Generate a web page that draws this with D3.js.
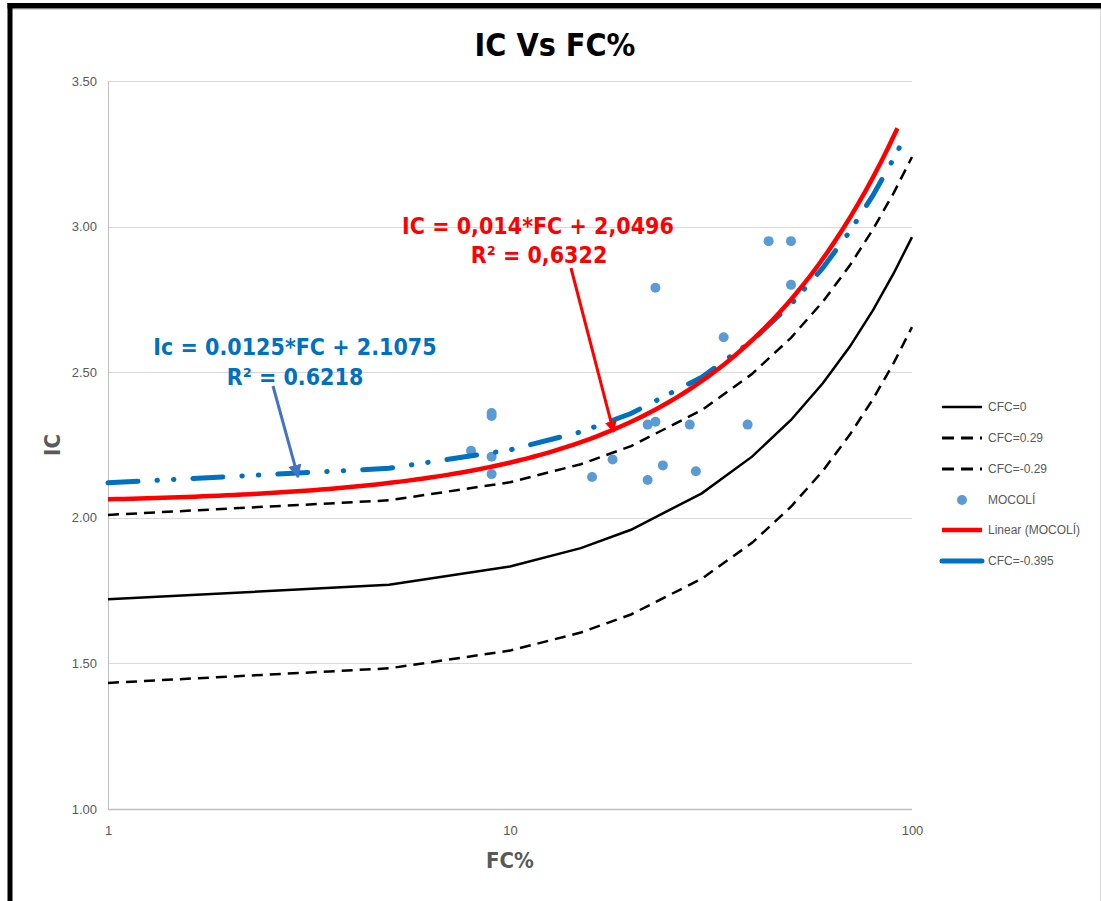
<!DOCTYPE html>
<html>
<head>
<meta charset="utf-8">
<script src="https://cdn.jsdelivr.net/npm/d3@7"></script>
<style>
  html, body { margin: 0; padding: 0; background: #fff; }
  svg { display: block; }
</style>
</head>
<body>
<svg id="chart" width="1101" height="901"></svg>
<script>
// ---------- DATA ----------
const fcPoints = [1, 5, 10, 15, 20, 30, 40, 50, 60, 70, 80, 90, 100];
const cfc0     = [1.720, 1.770, 1.833, 1.896, 1.959, 2.084, 2.210, 2.336, 2.462, 2.587, 2.713, 2.839, 2.964];
const cfcP029  = [2.010, 2.060, 2.122, 2.184, 2.246, 2.370, 2.494, 2.618, 2.742, 2.866, 2.991, 3.115, 3.239];
const cfcM029  = [1.433, 1.483, 1.544, 1.606, 1.668, 1.791, 1.914, 2.038, 2.161, 2.285, 2.408, 2.531, 2.655];
const fcBlue   = [1, 5, 10, 15, 20, 30, 40, 50, 60, 70, 80, 90, 97];
const cfcM0395 = [2.120, 2.170, 2.233, 2.295, 2.358, 2.483, 2.608, 2.733, 2.858, 2.983, 3.108, 3.233, 3.320];

const mocoliFC = [23, 50, 34, 44, 50, 9, 9, 8, 9, 9, 22, 23, 28, 39, 18, 16, 24, 22, 29];
const mocoliIC = [2.79, 2.80, 2.62, 2.95, 2.95, 2.35, 2.36, 2.23, 2.21, 2.15, 2.32, 2.33, 2.32, 2.32, 2.20, 2.14, 2.18, 2.13, 2.16];

// Linear trendline (MOCOLÍ): IC = 0.014*FC + 2.0496, drawn from FC=1 to FC≈92
const trendSlope = 0.014;
const trendIntercept = 2.0496;
const trendRange = [1, 92];

const yTicks = [1.0, 1.5, 2.0, 2.5, 3.0, 3.5];
const xTicks = [1, 10, 100];

const legendLabels = ["CFC=0", "CFC=0.29", "CFC=-0.29", "MOCOLÍ", "Linear (MOCOLÍ)", "CFC=-0.395"];

// ---------- SETUP ----------
(function () {
const svg = d3.select("#chart");
const W = 1101, H = 901;
const pL = 108, pR = 912, pT = 81, pB = 809;

const x = d3.scaleLog().domain([1, 100]).range([pL, pR]);
const y = d3.scaleLinear().domain([1, 3.5]).range([pB, pT]);

const gray = "#595959";
const tickFont = "'Liberation Sans', Arial, sans-serif";
const boldFont = "'DejaVu Sans Condensed', 'DejaVu Sans', sans-serif";

svg.append("rect").attr("width", W).attr("height", H).attr("fill", "#fff");

// outer frame (light) + black borders (top & left visible)
svg.append("line").attr("x1", 1100.5).attr("x2", 1100.5).attr("y1", 8).attr("y2", H)
  .attr("stroke", "#d9d9d9").attr("stroke-width", 1);
svg.append("line").attr("x1", 12).attr("x2", 1101).attr("y1", 9.5).attr("y2", 9.5)
  .attr("stroke", "#d9d9d9").attr("stroke-width", 1);
svg.append("line").attr("x1", 7.5).attr("x2", 1101).attr("y1", 5.75).attr("y2", 5.75)
  .attr("stroke", "#000").attr("stroke-width", 5.5);
svg.append("line").attr("x1", 10).attr("x2", 10).attr("y1", 3).attr("y2", H)
  .attr("stroke", "#000").attr("stroke-width", 5);

// gridlines
svg.append("g").selectAll("line").data(yTicks.slice(1)).join("line")
  .attr("x1", pL).attr("x2", pR)
  .attr("y1", d => Math.round(y(d)) + 0.5).attr("y2", d => Math.round(y(d)) + 0.5)
  .attr("stroke", "#d9d9d9").attr("stroke-width", 1);

// y axis
const yAxis = d3.axisLeft(y).tickValues(yTicks).tickFormat(d => d.toFixed(2)).tickSize(0).tickPadding(11);
const gy = svg.append("g").attr("transform", `translate(${pL},0)`).call(yAxis);
gy.select(".domain").remove();
gy.selectAll("text").attr("font-family", tickFont).attr("font-size", 13).attr("fill", gray);

// x axis
const xAxis = d3.axisBottom(x).tickValues(xTicks).tickFormat(d3.format("d")).tickSize(0).tickPadding(17);
const gx = svg.append("g").attr("transform", `translate(0,${pB})`).call(xAxis);
gx.select(".domain").remove();
gx.selectAll("text").attr("font-family", tickFont).attr("font-size", 13).attr("fill", gray);

// axis lines
svg.append("line").attr("x1", pL + 0.5).attr("x2", pL + 0.5).attr("y1", pT).attr("y2", pB)
  .attr("stroke", "#bfbfbf").attr("stroke-width", 1);
svg.append("line").attr("x1", pL).attr("x2", pR).attr("y1", pB + 0.5).attr("y2", pB + 0.5)
  .attr("stroke", "#bfbfbf").attr("stroke-width", 1.5);

// ---------- SERIES ----------
const line = d3.line().x(d => x(d[0])).y(d => y(d[1]));
const zip = (a, b) => a.map((v, i) => [v, b[i]]);

svg.append("path").datum(zip(fcPoints, cfc0)).attr("d", line)
  .attr("fill", "none").attr("stroke", "#000").attr("stroke-width", 2.5);
svg.append("path").datum(zip(fcPoints, cfcP029)).attr("d", line)
  .attr("fill", "none").attr("stroke", "#000").attr("stroke-width", 2.5).attr("stroke-dasharray", "11,7");
svg.append("path").datum(zip(fcPoints, cfcM029)).attr("d", line)
  .attr("fill", "none").attr("stroke", "#000").attr("stroke-width", 2.5).attr("stroke-dasharray", "11,7");

// scatter
svg.append("g").selectAll("circle").data(zip(mocoliFC, mocoliIC)).join("circle")
  .attr("cx", d => x(d[0])).attr("cy", d => y(d[1])).attr("r", 5)
  .attr("fill", "#5b9bd5");

// blue dash-dot-dot line
svg.append("path").datum(zip(fcBlue, cfcM0395)).attr("d", line)
  .attr("fill", "none").attr("stroke", "#0070c0").attr("stroke-width", 5)
  .attr("stroke-linecap", "round").attr("stroke-dasharray", "30,19,0.5,16,0.5,19");

// red trendline
const trendPts = d3.range(0, 1.0001, 0.01).map(t => {
  const lx = Math.log10(trendRange[0]) + t * (Math.log10(trendRange[1]) - Math.log10(trendRange[0]));
  const fc = Math.pow(10, lx);
  return [fc, trendSlope * fc + trendIntercept];
});
svg.append("path").datum(trendPts).attr("d", line)
  .attr("fill", "none").attr("stroke", "#ff0000").attr("stroke-width", 4.5);

// ---------- ANNOTATIONS ----------
const defs = svg.append("defs");
defs.append("marker").attr("id", "arrRed").attr("viewBox", "0 0 10 10").attr("refX", 9).attr("refY", 5)
  .attr("markerWidth", 4).attr("markerHeight", 4).attr("orient", "auto")
  .append("path").attr("d", "M0,0 L10,5 L0,10 z").attr("fill", "#ff0000");
defs.append("marker").attr("id", "arrBlue").attr("viewBox", "0 0 10 10").attr("refX", 9).attr("refY", 5)
  .attr("markerWidth", 4.5).attr("markerHeight", 4.5).attr("orient", "auto")
  .append("path").attr("d", "M0,0 L10,5 L0,10 z").attr("fill", "#4472c4");

svg.append("line").attr("x1", 571).attr("y1", 268).attr("x2", x(18.1)).attr("y2", y(2.295))
  .attr("stroke", "#ff0000").attr("stroke-width", 3).attr("marker-end", "url(#arrRed)");
svg.append("line").attr("x1", 273).attr("y1", 386).attr("x2", x(2.97)).attr("y2", y(2.14))
  .attr("stroke", "#4472c4").attr("stroke-width", 3).attr("marker-end", "url(#arrBlue)");

const ann = [
  { t: "IC = 0,014*FC + 2,0496", x: 538, y: 226, c: "#ff0000" },
  { t: "R² = 0,6322", x: 539, y: 255, c: "#ff0000" },
  { t: "Ic = 0.0125*FC + 2.1075", x: 295, y: 347, c: "#0070c0" },
  { t: "R² = 0.6218", x: 295, y: 377, c: "#0070c0" }
];
svg.append("g").selectAll("text").data(ann).join("text")
  .attr("x", d => d.x).attr("y", d => d.y).attr("dy", "0.35em")
  .attr("text-anchor", "middle").attr("font-family", boldFont).attr("font-weight", "bold")
  .attr("font-size", 23).attr("fill", d => d.c).text(d => d.t);

// ---------- TITLES ----------
svg.append("text").attr("x", 555).attr("y", 45).attr("dy", "0.35em").attr("text-anchor", "middle")
  .attr("font-family", boldFont).attr("font-weight", "bold").attr("font-size", 32).attr("fill", "#000")
  .text("IC Vs FC%");
svg.append("text").attr("x", 510).attr("y", 860).attr("dy", "0.35em").attr("text-anchor", "middle")
  .attr("font-family", boldFont).attr("font-weight", "bold").attr("font-size", 22).attr("fill", gray)
  .text("FC%");
svg.append("text").attr("transform", "translate(52,445) rotate(-90)").attr("dy", "0.35em")
  .attr("text-anchor", "middle").attr("font-family", boldFont).attr("font-weight", "bold")
  .attr("font-size", 22).attr("fill", gray).text("IC");

// ---------- LEGEND ----------
const legY = [407, 438, 469, 500, 530, 561];
const legStyles = [
  { k: "line", c: "#000", w: 2.5, dash: null },
  { k: "line", c: "#000", w: 3, dash: "12,7" },
  { k: "line", c: "#000", w: 3, dash: "12,7" },
  { k: "dot", c: "#5b9bd5" },
  { k: "line", c: "#ff0000", w: 4.5, dash: null },
  { k: "line", c: "#0070c0", w: 5, dash: null, cap: "round" }
];
const lg = svg.append("g");
legendLabels.forEach((lab, i) => {
  const s = legStyles[i], yy = legY[i];
  if (s.k === "line") {
    lg.append("line").attr("x1", 942).attr("x2", 982).attr("y1", yy).attr("y2", yy)
      .attr("stroke", s.c).attr("stroke-width", s.w)
      .attr("stroke-dasharray", s.dash).attr("stroke-linecap", s.cap || "butt");
  } else {
    lg.append("circle").attr("cx", 962).attr("cy", yy).attr("r", 5).attr("fill", s.c);
  }
  lg.append("text").attr("x", 988).attr("y", yy).attr("dy", "0.35em")
    .attr("font-family", tickFont).attr("font-size", 12).attr("fill", gray).text(lab);
});
})();
</script>
</body>
</html>
